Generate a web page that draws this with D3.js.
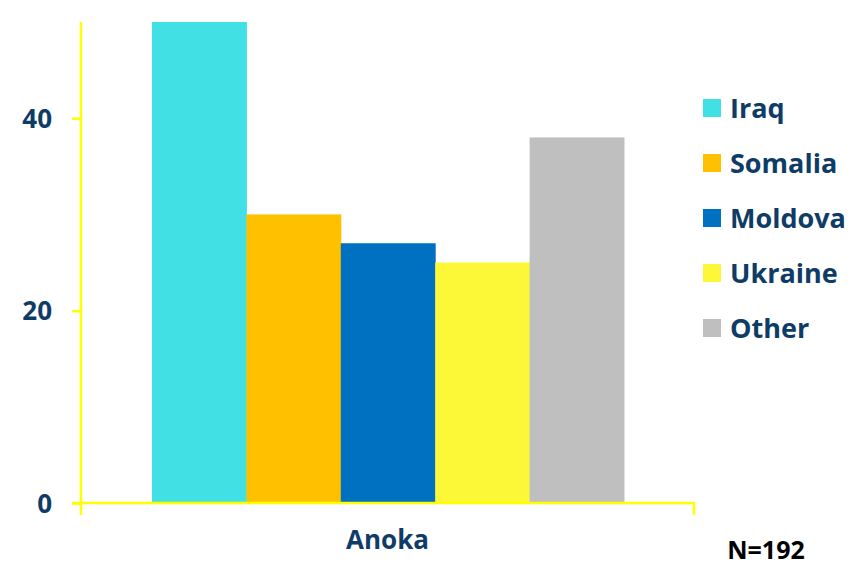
<!DOCTYPE html>
<html>
<head>
<meta charset="utf-8">
<script src="https://cdn.jsdelivr.net/npm/d3@7"></script>
<style>
  body { margin: 0; background: #fff; }
  svg text { font-family: "Open Sans", "Noto Sans", sans-serif; font-weight: bold; }
</style>
</head>
<body>
<svg width="854" height="566"></svg>
<script>
// data (Iraq runs past the 50 top of the axis)
let groups = ["Anoka"];
let countries = ["Iraq", "Somalia", "Moldova", "Ukraine", "Other"];
let counts = [72, 30, 27, 25, 38];
let colors = ["#40e0e4", "#ffc000", "#0070c0", "#fcf737", "#bfbfbf"];
let yTicks = [0, 20, 40];
let note = "N=192";

let svg = d3.select("svg"),
    plotLeft = 81, plotRight = 694, plotTop = 22, plotBottom = 503;

let y = d3.scaleLinear().domain([0, 50]).range([plotBottom, plotTop]).clamp(true);
let xGroup = d3.scaleBand().domain(groups).range([plotLeft, plotRight]);
let x = d3.scaleBand().domain(countries)
  .range([xGroup("Anoka") + 71, xGroup("Anoka") + xGroup.bandwidth() - 70]);

// bars
svg.append("g").selectAll("rect")
  .data(countries)
  .enter().append("rect")
  .attr("x", d => x(d))
  .attr("width", x.bandwidth() + 0.5)
  .attr("y", (d, i) => y(counts[i]))
  .attr("height", (d, i) => plotBottom - y(counts[i]))
  .attr("fill", (d, i) => colors[i]);

// y axis
let yAxis = svg.append("g")
  .attr("transform", `translate(${plotLeft},0)`)
  .call(d3.axisLeft(y).tickValues(yTicks).tickSize(9).tickPadding(20).tickSizeOuter(0));
yAxis.select(".domain").attr("stroke", "#ffff00").attr("stroke-width", 2.5)
  .attr("d", `M0,${plotTop}V${plotBottom + 12}`);
yAxis.selectAll(".tick line").attr("stroke", "#ffff00").attr("stroke-width", 2.5);
yAxis.selectAll(".tick text").attr("fill", "#0e3c66").style("font-size", "26px").attr("dy", "0.36em");

// x axis
let xAxis = svg.append("g")
  .attr("transform", `translate(0,${plotBottom})`)
  .call(d3.axisBottom(xGroup).tickSize(0).tickPadding(28));
xAxis.select(".domain").attr("stroke", "#ffff00").attr("stroke-width", 2.5)
  .attr("d", `M${plotLeft - 9},0H${plotRight}V12`);
xAxis.selectAll(".tick text").attr("fill", "#0e3c66").style("font-size", "26px");

// legend
let legend = svg.append("g").selectAll("g")
  .data(countries)
  .enter().append("g")
  .attr("transform", (d, i) => `translate(703,${108 + i * 55})`);
legend.append("rect")
  .attr("y", -9).attr("width", 18).attr("height", 18)
  .attr("fill", (d, i) => colors[i]);
legend.append("text")
  .attr("x", 27).attr("dy", "0.36em")
  .attr("fill", "#0e3c66").style("font-size", "27px")
  .text(d => d);

svg.append("text")
  .attr("x", 766).attr("y", 559)
  .attr("text-anchor", "middle")
  .attr("fill", "#000").style("font-size", "25px")
  .text(note);
</script>
</body>
</html>
